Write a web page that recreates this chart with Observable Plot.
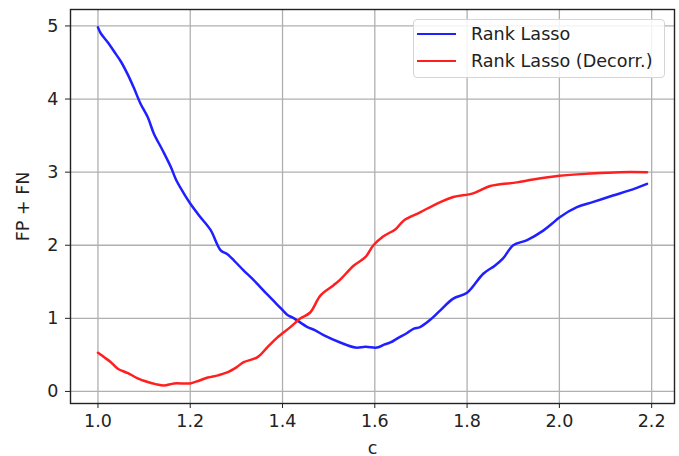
<!DOCTYPE html>
<html>
<head>
<meta charset="utf-8">
<script src="https://cdn.jsdelivr.net/npm/d3@7"></script>
<script src="https://cdn.jsdelivr.net/npm/@observablehq/plot@0.6"></script>
<style>
  html, body { margin: 0; padding: 0; background: #fff; }
  #wrap { position: relative; width: 679px; height: 456px; overflow: hidden; font-family: "DejaVu Sans", sans-serif; }
  #legend { position: absolute; left: 413px; top: 19px; width: 252px; height: 59px; box-sizing: border-box;
    border: 1px solid #d5d5d5; border-radius: 4px; background: rgba(255,255,255,0.85); }
  .row { position: absolute; left: 0; height: 22px; display: flex; align-items: center; }
  .sw { width: 39px; height: 2.6px; margin-left: 3px; margin-right: 15px; }
  .lab { font-size: 17.6px; color: #222; white-space: nowrap; }
</style>
</head>
<body>
<div id="wrap"></div>
<script>
// Series names
const seriesNames = ["Rank Lasso", "Rank Lasso (Decorr.)"];
const seriesColors = ["#1f1fff", "#ff1f1f"];

// Rank Lasso (blue)
const cBlue = [1.000,1.006,1.022,1.035,1.050,1.065,1.078,1.092,1.108,1.121,1.140,1.158,1.169,1.185,1.200,1.220,1.244,1.266,1.280,1.295,1.315,1.338,1.368,1.396,1.410,1.425,1.454,1.470,1.489,1.525,1.558,1.580,1.605,1.620,1.634,1.650,1.670,1.685,1.698,1.720,1.742,1.770,1.800,1.835,1.860,1.878,1.900,1.930,1.965,1.985,2.000,2.038,2.072,2.116,2.152,2.190];
const fpBlue = [4.98,4.90,4.77,4.65,4.51,4.33,4.15,3.94,3.75,3.53,3.30,3.07,2.90,2.72,2.57,2.40,2.21,1.93,1.88,1.79,1.66,1.52,1.32,1.14,1.05,1.00,0.88,0.84,0.77,0.67,0.60,0.61,0.60,0.64,0.67,0.73,0.80,0.86,0.88,0.98,1.11,1.27,1.35,1.61,1.72,1.82,2.00,2.07,2.20,2.30,2.38,2.52,2.59,2.68,2.75,2.84];

// Rank Lasso (Decorr.) (red)
const cRed = [1.000,1.013,1.028,1.043,1.065,1.086,1.108,1.125,1.143,1.165,1.200,1.220,1.238,1.260,1.280,1.300,1.316,1.346,1.368,1.389,1.417,1.439,1.460,1.482,1.510,1.525,1.554,1.580,1.597,1.618,1.645,1.663,1.698,1.735,1.770,1.813,1.850,1.908,1.943,2.000,2.066,2.130,2.190];
const fpRed = [0.53,0.47,0.40,0.31,0.25,0.18,0.13,0.10,0.08,0.11,0.11,0.15,0.19,0.22,0.26,0.33,0.40,0.47,0.61,0.74,0.88,1.00,1.08,1.31,1.45,1.53,1.72,1.84,2.00,2.12,2.22,2.34,2.45,2.57,2.66,2.71,2.81,2.86,2.90,2.95,2.98,3.00,3.00];

// Ticks
const xTicks = [1.0, 1.2, 1.4, 1.6, 1.8, 2.0, 2.2];
const yTicks = [0, 1, 2, 3, 4, 5];
const xLabel = "c";
const yLabel = "FP + FN";

const blueData = cBlue.map((c, i) => ({c, v: fpBlue[i]}));
const redData = cRed.map((c, i) => ({c, v: fpRed[i]}));

const chart = Plot.plot({
  width: 679,
  height: 456,
  marginLeft: 70,
  marginRight: 5,
  marginTop: 9,
  marginBottom: 53,
  style: { fontFamily: "DejaVu Sans, sans-serif", fontSize: "17.5px", color: "#222", background: "#fff" },
  x: { domain: [0.9405, 2.2495] },
  y: { domain: [-0.165, 5.225] },
  marks: [
    Plot.gridX(xTicks, { stroke: "#b0b0b0", strokeOpacity: 1, strokeWidth: 1.3 }),
    Plot.gridY(yTicks, { stroke: "#b0b0b0", strokeOpacity: 1, strokeWidth: 1.3 }),
    Plot.line(blueData, { x: "c", y: "v", stroke: seriesColors[0], strokeWidth: 2.5, curve: "catmull-rom" }),
    Plot.line(redData, { x: "c", y: "v", stroke: seriesColors[1], strokeWidth: 2.5, curve: "catmull-rom" }),
    Plot.frame({ stroke: "#222", strokeWidth: 1.4 }),
    Plot.axisX(xTicks, { tickFormat: d3.format(".1f"), tickSize: 5, tickPadding: 6, fontSize: 17.5,
      label: xLabel, labelAnchor: "center", labelArrow: "none", labelOffset: 50 }),
    Plot.axisY(yTicks, { tickFormat: d3.format("d"), tickSize: 5, tickPadding: 7, fontSize: 17.5,
      label: yLabel, labelAnchor: "center", labelArrow: "none", labelOffset: 54 })
  ]
});

const wrap = document.getElementById("wrap");
wrap.appendChild(chart);

const legend = document.createElement("div");
legend.id = "legend";
seriesNames.forEach((name, i) => {
  const row = document.createElement("div");
  row.className = "row";
  row.style.top = (3 + i * 27) + "px";
  const sw = document.createElement("div");
  sw.className = "sw";
  sw.style.background = seriesColors[i];
  const lab = document.createElement("span");
  lab.className = "lab";
  lab.textContent = name;
  row.appendChild(sw);
  row.appendChild(lab);
  legend.appendChild(row);
});
wrap.appendChild(legend);
</script>
</body>
</html>
